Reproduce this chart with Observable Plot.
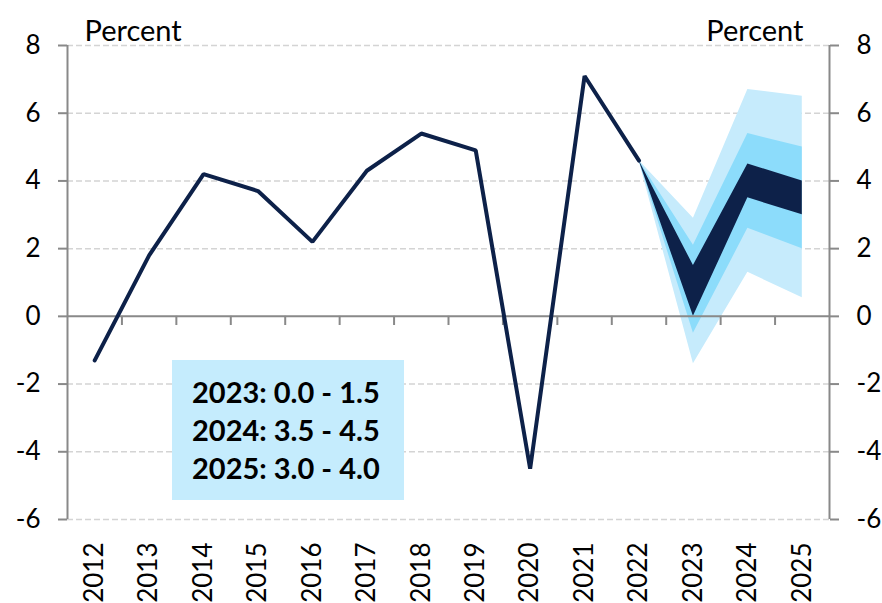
<!DOCTYPE html>
<html>
<head>
<meta charset="utf-8">
<script src="https://cdn.jsdelivr.net/npm/d3@7"></script>
<script src="https://cdn.jsdelivr.net/npm/@observablehq/plot@0.6"></script>
<style>
  html, body { margin: 0; padding: 0; background: #fff; }
  #wrap { position: relative; width: 882px; height: 603px; font-family: "Lato", sans-serif; }
  #box { position: absolute; left: 172px; top: 360px; width: 232px; height: 140px; background: #c5ecfd;
         box-sizing: border-box; padding: 13px 0 0 20px; font-weight: bold; font-size: 29px; line-height: 38px; color: #000; }
</style>
</head>
<body>
<div id="wrap"><div id="box"></div></div>
<script>
// Historical growth, percent
const histYears = [2012, 2013, 2014, 2015, 2016, 2017, 2018, 2019, 2020, 2021, 2022];
const growth = [-1.3, 1.8, 4.2, 3.7, 2.2, 4.3, 5.4, 4.9, -4.5, 7.1, 4.6];

// Projection fan
const fanYears = [2022, 2023, 2024, 2025];
const lightLo = [4.6, -1.4, 1.3, 0.55];
const lightHi = [4.6, 2.9, 6.7, 6.5];
const midLo = [4.6, -0.5, 2.6, 2.0];
const midHi = [4.6, 2.1, 5.4, 5.0];
const darkLo = [4.6, 0.0, 3.5, 3.0];
const darkHi = [4.6, 1.5, 4.5, 4.0];

// Axes
const yearTicks = [2012, 2013, 2014, 2015, 2016, 2017, 2018, 2019, 2020, 2021, 2022, 2023, 2024, 2025];
const yTicks = [-6, -4, -2, 0, 2, 4, 6, 8];
const yLabel = "Percent";

const hist = histYears.map((year, i) => ({year, value: growth[i]}));
const fan = fanYears.map((year, i) => ({
  year, lightLo: lightLo[i], lightHi: lightHi[i], midLo: midLo[i], midHi: midHi[i], darkLo: darkLo[i], darkHi: darkHi[i]
}));
const xMin = yearTicks[0] - 0.5, xMax = yearTicks[yearTicks.length - 1] + 0.5;
const boundaries = yearTicks.slice(0, -1).map(y => y + 0.5);

const AX = "#898989";

const chart = Plot.plot({
  width: 882,
  height: 603,
  marginLeft: 67,
  marginRight: 53,
  marginTop: 45,
  marginBottom: 84,
  style: {fontFamily: "Lato, sans-serif", fontSize: "26px", color: "#000", background: "transparent", overflow: "visible"},
  x: {domain: [xMin, xMax]},
  y: {domain: [yTicks[0], yTicks[yTicks.length - 1]]},
  marks: [
    Plot.ruleY(yTicks.filter(d => d !== 0), {stroke: "#d4d4d4", strokeWidth: 1.5, strokeDasharray: "6,3"}),
    Plot.areaY(fan, {x: "year", y1: "lightLo", y2: "lightHi", fill: "#c6ebfc", curve: "linear"}),
    Plot.areaY(fan, {x: "year", y1: "midLo", y2: "midHi", fill: "#8cdcfb", curve: "linear"}),
    Plot.areaY(fan, {x: "year", y1: "darkLo", y2: "darkHi", fill: "#0d2149", curve: "linear"}),
    Plot.ruleY([0], {stroke: AX, strokeWidth: 2}),
    Plot.ruleX(boundaries, {y1: 0, y2: -0.27, stroke: AX, strokeWidth: 2}),
    Plot.ruleX([xMin, xMax], {y1: yTicks[0], y2: yTicks[yTicks.length - 1], stroke: AX, strokeWidth: 2}),
    Plot.axisY({anchor: "left", ticks: yTicks, tickFormat: d => String(d), tickSize: 9, tickPadding: 18, stroke: AX, strokeWidth: 2, label: null}),
    Plot.axisY({anchor: "right", ticks: yTicks, tickFormat: d => String(d), tickSize: 9, tickPadding: 18, stroke: AX, strokeWidth: 2, label: null}),
    Plot.axisX({ticks: yearTicks, tickFormat: d => String(d), tickRotate: -90, tickSize: 0, tickPadding: 23, label: null}),
    Plot.line(hist, {x: "year", y: "value", stroke: "#0d2149", strokeWidth: 4, strokeLinejoin: "miter"}),
    Plot.text([yLabel], {frameAnchor: "top-left", textAnchor: "start", lineAnchor: "bottom", dx: 17, dy: -5, fontSize: 29}),
    Plot.text([yLabel], {frameAnchor: "top-right", textAnchor: "end", lineAnchor: "bottom", dx: -26, dy: -5, fontSize: 29})
  ]
});

const wrap = document.getElementById("wrap");
wrap.insertBefore(chart, wrap.firstChild);
const box = document.getElementById("box");
box.innerHTML = fanYears.slice(1).map((y, i) =>
  `${y}: ${darkLo[i + 1].toFixed(1)} - ${darkHi[i + 1].toFixed(1)}`).join("<br>");
</script>
</body>
</html>
